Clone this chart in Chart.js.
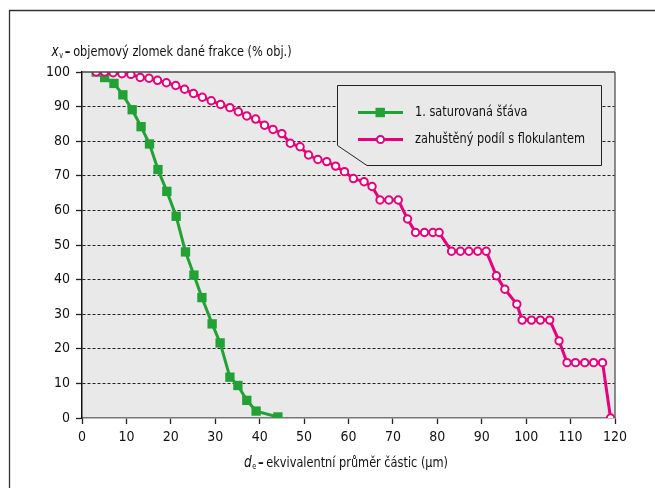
<!DOCTYPE html>
<html>
<head>
<meta charset="utf-8">
<script src="https://cdn.jsdelivr.net/npm/chart.js@4.4.1/dist/chart.umd.min.js"></script>
<style>
html,body{margin:0;padding:0;background:#fff;}
#wrap{width:655px;height:488px;position:relative;}
</style>
</head>
<body>
<div id="wrap"><canvas id="c" width="655" height="488"></canvas></div>
<script>
// ---- data ----
const seriesNames = ['1. saturovaná šťáva', 'zahuštěný podíl s flokulantem'];
const greenX = [3.2, 5.1, 7.2, 9.2, 11.3, 13.3, 15.2, 17.1, 19.1, 21.2, 23.3, 25.2, 27.0, 29.3, 31.1, 33.3, 35.1, 37.1, 39.2, 44.1];
const greenY = [100, 98.4, 96.7, 93.4, 89.1, 84.2, 79.2, 71.8, 65.5, 58.3, 48.0, 41.3, 34.8, 27.2, 21.7, 11.8, 9.4, 5.1, 2.0, 0.3];
const pinkX = [3.2, 5.1, 7.0, 9.0, 11.0, 13.1, 15.1, 17.0, 19.0, 21.1, 23.1, 25.1, 27.1, 29.1, 31.2, 33.3, 35.2, 37.1, 39.1, 41.1,
  43.0, 45.0, 46.9, 49.1, 51.0, 53.1, 55.1, 57.1, 59.1, 61.1, 63.5, 65.3, 67.1, 69.1, 71.2, 73.3, 75.1, 77.1, 79.0, 80.4,
  83.2, 85.2, 87.1, 89.1, 91.0, 93.3, 95.2, 97.9, 99.1, 101.2, 103.2, 105.3, 107.4, 109.2, 111.1, 113.2, 115.2, 117.2, 119.0];
const pinkY = [100, 100, 99.8, 99.5, 99.3, 98.4, 98.2, 97.6, 96.9, 96.1, 95.0, 93.8, 92.7, 91.7, 90.6, 89.7, 88.5, 87.3, 86.4, 84.6,
  83.4, 82.2, 79.4, 78.4, 76.0, 74.7, 74.1, 72.8, 71.2, 69.2, 68.3, 66.9, 63.0, 63.0, 63.0, 57.5, 53.6, 53.6, 53.6, 53.6,
  48.2, 48.2, 48.2, 48.2, 48.2, 41.1, 37.2, 32.9, 28.3, 28.3, 28.3, 28.3, 22.3, 16.0, 16.0, 16.0, 16.0, 16.0, 0];
const xTicks = [0,10,20,30,40,50,60,70,80,90,100,110,120];
const yTicks = [0,10,20,30,40,50,60,70,80,90,100];

const FONT = '"Liberation Sans Narrow", "Arial Narrow", "DejaVu Sans Condensed", sans-serif';
const GREEN = '#22a135';
const PINK = '#e5007d';
const PLOTBG = '#e9e9e9';
const SQX = 0.9; // horizontal text compression (condensed look)

function pts(xs, ys){ return xs.map((x,i)=>({x:x, y:ys[i]})); }

const decor = {
  id:'decor',
  beforeDraw(chart){
    const {ctx, chartArea:a} = chart;
    ctx.save();
    ctx.fillStyle = PLOTBG;
    ctx.fillRect(a.left, a.top, a.right-a.left, a.bottom-a.top);
    ctx.strokeStyle = '#333'; ctx.lineWidth = 1.3;
    ctx.beginPath(); ctx.moveTo(9.5, 488); ctx.lineTo(9.5, 10.5); ctx.lineTo(655, 10.5); ctx.stroke();
    ctx.restore();
  },
  afterDatasetsDraw(chart){
    const {ctx, chartArea:a} = chart;
    ctx.save();
    ctx.strokeStyle = '#444'; ctx.lineWidth = 1.3;
    ctx.beginPath(); ctx.moveTo(a.left, a.top); ctx.lineTo(a.right, a.top); ctx.stroke();
    ctx.strokeStyle = '#666'; ctx.lineWidth = 1.5;
    ctx.beginPath(); ctx.moveTo(a.right, a.top); ctx.lineTo(a.right, a.bottom); ctx.stroke();
    ctx.restore();
  },
  afterDraw(chart){
    const {ctx} = chart;
    ctx.save();
    const L=337.5, T=85.5, R=601.5, B=165.5;
    ctx.fillStyle = PLOTBG; ctx.strokeStyle = '#222'; ctx.lineWidth = 1;
    ctx.beginPath(); ctx.moveTo(L,T); ctx.lineTo(R,T); ctx.lineTo(R,B); ctx.lineTo(367,B); ctx.lineTo(L,145.5); ctx.closePath();
    ctx.fill(); ctx.stroke();
    const items = [{c:GREEN, y:112.5, sq:true}, {c:PINK, y:139.5, sq:false}];
    items.forEach((it,i)=>{
      ctx.strokeStyle = it.c; ctx.lineWidth = 3;
      ctx.beginPath(); ctx.moveTo(358, it.y); ctx.lineTo(403, it.y); ctx.stroke();
      if (it.sq){ ctx.fillStyle = it.c; ctx.fillRect(375.5, it.y-4.7, 9.4, 9.4); }
      else { ctx.fillStyle='#fff'; ctx.lineWidth=2; ctx.beginPath(); ctx.arc(380.5, it.y, 3.6, 0, Math.PI*2); ctx.fill(); ctx.stroke(); }
      ctx.save();
      ctx.translate(415, it.y); ctx.scale(SQX, 1);
      ctx.fillStyle = '#111'; ctx.font = '14px ' + FONT; ctx.textBaseline = 'middle'; ctx.textAlign='left';
      ctx.fillText(seriesNames[i], 0, 0);
      ctx.restore();
    });
    function rich(x0, y, sym, sub, rest){
      ctx.save();
      ctx.translate(x0, y); ctx.scale(SQX, 1);
      let x = 0;
      ctx.textBaseline = 'alphabetic'; ctx.textAlign='left'; ctx.fillStyle='#111';
      ctx.font = 'italic 15px ' + FONT; ctx.fillText(sym, x, 0); x += ctx.measureText(sym).width;
      ctx.font = '8px ' + FONT; ctx.fillText(sub, x+0.5, 2); x += ctx.measureText(sub).width + 2.5;
      ctx.font = 'bold 14px ' + FONT; ctx.fillText('–', x, 0); x += ctx.measureText('–').width + 3;
      ctx.font = '14px ' + FONT; ctx.fillText(rest, x, 0);
      ctx.restore();
    }
    rich(51.5, 56, 'x', 'v', 'objemový zlomek dané frakce (% obj.)');
    rich(244, 467, 'd', 'e', 'ekvivalentní průměr částic (µm)');
    ctx.restore();
  }
};

new Chart(document.getElementById('c'), {
  type:'scatter',
  data:{ datasets:[
    { label: seriesNames[1], data: pts(pinkX, pinkY), showLine:true, borderColor:PINK, borderWidth:3,
      pointStyle:'circle', pointRadius:3.7, pointBorderWidth:2, pointBackgroundColor:'#fff', pointBorderColor:PINK, order:0, tension:0 },
    { label: seriesNames[0], data: pts(greenX, greenY), showLine:true, borderColor:GREEN, borderWidth:3,
      pointStyle:'rect', pointRadius:6.6, pointBorderWidth:0, pointBackgroundColor:GREEN, pointBorderColor:GREEN, order:1, tension:0 }
  ]},
  options:{
    responsive:false, animation:false, devicePixelRatio:1,
    layout:{ padding:{ top:72, right:40, left:0, bottom:0 } },
    plugins:{ legend:{display:false}, tooltip:{enabled:false}, title:{display:false} },
    scales:{
      x:{ type:'linear', min:0, max:120,
        afterBuildTicks(s){ s.ticks = xTicks.map(v=>({value:v})); },
        afterFit(s){ s.height = 70; },
        grid:{ drawOnChartArea:false, drawTicks:true, tickLength:6, tickColor:'#222', tickWidth:1.3 },
        border:{ display:true, color:'#777', width:1.5 },
        ticks:{ color:'#111', font:{ family:FONT, size:14 }, padding:5, maxRotation:0 }
      },
      y:{ type:'linear', min:0, max:100,
        afterBuildTicks(s){ s.ticks = yTicks.map(v=>({value:v})); },
        afterFit(s){ s.width = 82; },
        grid:{ drawOnChartArea:true, drawTicks:true, tickLength:6, tickWidth:1.3, tickColor:'#222',
          color:(c)=> (c.tick && (c.tick.value===0 || c.tick.value===100)) ? 'rgba(0,0,0,0)' : '#222', lineWidth:1 },
        border:{ display:true, color:'#111', width:1.5, dash:[3,2] },
        ticks:{ color:'#111', font:{ family:FONT, size:14 }, padding:6 }
      }
    }
  },
  plugins:[decor]
});
</script>
</body>
</html>
